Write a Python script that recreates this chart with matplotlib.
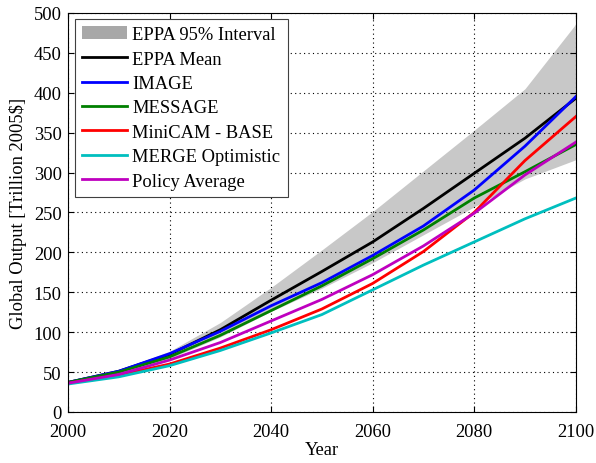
import numpy as np
import matplotlib.pyplot as plt
from matplotlib.patches import Patch
from matplotlib.lines import Line2D

plt.rcParams['font.family'] = ['Liberation Serif', 'DejaVu Serif']
plt.rcParams['font.size'] = 13.3

# decade values (trillion 2005$)
years = [2000, 2010, 2020, 2030, 2040, 2050, 2060, 2070, 2080, 2090, 2100]
eppa_mean = [37, 51, 72, 103, 140, 176, 213, 255, 299, 343, 393]
eppa_upper = [38, 53, 76, 112, 156, 203, 251, 302, 353, 405, 486]
eppa_lower = [36, 48, 67, 94, 126, 155, 187, 222, 257, 292, 316]
image = [37, 51, 73, 101, 133, 162, 196, 233, 278, 333, 395]
message = [37, 50, 69, 96, 127, 158, 192, 228, 268, 301, 335]
minicam = [36, 46, 60, 80, 103, 129, 161, 201, 250, 315, 370]
merge = [35, 44, 58, 77, 99, 122, 153, 184, 213, 242, 268]
policy_avg = [36, 47, 65, 87, 114, 141, 172, 208, 249, 297, 338]

fig = plt.figure(figsize=(5.96, 4.64), dpi=100)
ax = fig.add_axes([0.114, 0.110, 0.852, 0.860])

ax.fill_between(years, eppa_lower, eppa_upper, color='#c8c8c8', lw=0)
lw = 2.0
ax.plot(years, eppa_mean, color='k', lw=lw)
ax.plot(years, image, color='#0000ff', lw=lw)
ax.plot(years, message, color='#008000', lw=lw)
ax.plot(years, minicam, color='#ff0000', lw=lw)
ax.plot(years, merge, color='#00bfbf', lw=lw)
ax.plot(years, policy_avg, color='#bf00bf', lw=lw)

ax.set_xlim(2000, 2100)
ax.set_ylim(0, 500)
ax.set_xticks(range(2000, 2101, 20))
ax.set_yticks(range(0, 501, 50))
ax.grid(True, color='k', linestyle=(0, (1, 3)), lw=0.8)
ax.tick_params(direction='in', top=True, right=True, length=4)
ax.tick_params(axis='x', pad=8)
ax.tick_params(axis='y', pad=4.5)
for s in ax.spines.values():
    s.set_linewidth(0.8)

ax.set_xlabel('Year', labelpad=1)
ax.set_ylabel('Global Output [Trillion 2005\\$]', labelpad=5)

handles = [Patch(facecolor='#a8a8a8', edgecolor='none'),
           Line2D([], [], color='k', lw=lw),
           Line2D([], [], color='#0000ff', lw=lw),
           Line2D([], [], color='#008000', lw=lw),
           Line2D([], [], color='#ff0000', lw=lw),
           Line2D([], [], color='#00bfbf', lw=lw),
           Line2D([], [], color='#bf00bf', lw=lw)]
labels = ['EPPA 95% Interval', 'EPPA Mean', 'IMAGE', 'MESSAGE',
          'MiniCAM - BASE', 'MERGE Optimistic', 'Policy Average']
leg = ax.legend(handles, labels, loc='upper left', bbox_to_anchor=(0.014, 0.985),
                fancybox=False, framealpha=1, edgecolor='#404040',
                borderaxespad=0, labelspacing=0.4, handlelength=2.4,
                handletextpad=0.3, borderpad=0.4)
leg.get_frame().set_linewidth(0.8)

fig.savefig('out.png', dpi=100)
